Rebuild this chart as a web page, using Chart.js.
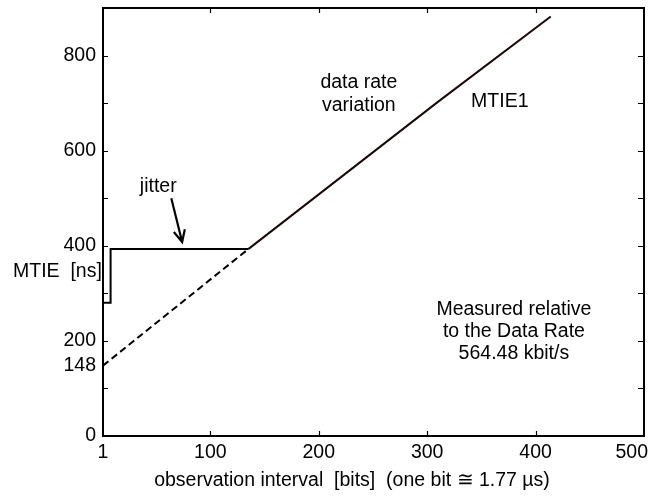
<!DOCTYPE html>
<html>
<head>
<meta charset="utf-8">
<script src="https://cdn.jsdelivr.net/npm/chart.js@4/dist/chart.umd.min.js"></script>
<style>
    html, body { margin: 0; padding: 0; background: #fff; }
    .chart-box { width: 651px; height: 496px; position: relative; }
</style>
</head>
<body>
<div class="chart-box"><canvas id="mtieChart"></canvas></div>
<script>
// Axis ticks
const xTickValues = [1, 100, 200, 300, 400, 500];
const xTickMarks = [100, 200, 300, 400];
const yTickMarks = [100, 200, 300, 400, 500, 600, 700, 800];
const yTickLabels = [0, 148, 200, 400, 600, 800];

// Series (observation interval in bits, MTIE in ns)
const extrapX = [1, 135];
const extrapY = [148, 393];
const mtieX = [135, 309, 414];
const mtieY = [393, 701, 882];
const jitterX = [1, 8, 8, 135];
const jitterY = [280, 280, 393, 393];

const toPoints = (xs, ys) => xs.map((x, i) => ({ x: x, y: ys[i] }));

const FONT = '19.5px "Liberation Sans", Arial, sans-serif';
const INK = '#000';

// Free text placed in data coordinates
const notes = [
    { text: 'jitter', x: 52, y: 513 },
    { text: 'data rate', x: 237, y: 732 },
    { text: 'variation', x: 237, y: 683 },
    { text: 'MTIE1', x: 367, y: 692 },
    { text: 'Measured relative', x: 380, y: 254 },
    { text: 'to the Data Rate', x: 380, y: 208 },
    { text: '564.48 kbit/s', x: 380, y: 162 }
];
const arrow = { from: [64, 500], to: [74, 408] };

const framePlugin = {
    id: 'frame',
    afterDatasetsDraw(chart) {
        const { ctx, chartArea: a, scales: { x, y } } = chart;
        ctx.save();
        ctx.strokeStyle = INK;
        ctx.fillStyle = INK;
        ctx.lineWidth = 2;
        ctx.strokeRect(a.left, a.top, a.right - a.left, a.bottom - a.top);

        // inward tick marks
        ctx.lineWidth = 1.2;
        ctx.beginPath();
        xTickMarks.forEach(v => {
            const px = Math.round(x.getPixelForValue(v)) + 0.5;
            ctx.moveTo(px, a.bottom); ctx.lineTo(px, a.bottom - 5);
            ctx.moveTo(px, a.top); ctx.lineTo(px, a.top + 5);
        });
        yTickMarks.forEach(v => {
            const py = Math.round(y.getPixelForValue(v)) + 0.5;
            ctx.moveTo(a.left, py); ctx.lineTo(a.left + 5, py);
            ctx.moveTo(a.right, py); ctx.lineTo(a.right - 6, py);
        });
        ctx.stroke();

        ctx.font = FONT;
        // y labels
        ctx.textAlign = 'right';
        ctx.textBaseline = 'middle';
        yTickLabels.forEach(v => {
            ctx.fillText(String(v), a.left - 7, y.getPixelForValue(v));
        });
        // x labels
        ctx.textBaseline = 'alphabetic';
        xTickValues.forEach((v, i) => {
            const last = i === xTickValues.length - 1;
            ctx.textAlign = last ? 'right' : 'center';
            ctx.fillText(String(v), x.getPixelForValue(v) + (last ? 4 : 0), a.bottom + 22);
        });

        // axis titles
        ctx.textAlign = 'left';
        ctx.fillText('MTIE  [ns]', 13, 277);
        ctx.textAlign = 'center';
        ctx.fillText('observation interval  [bits]  (one bit \u2245 1.77 \u00b5s)', 352, 486);

        // notes
        notes.forEach(n => {
            ctx.fillText(n.text, x.getPixelForValue(n.x), y.getPixelForValue(n.y));
        });

        // jitter arrow
        const x0 = x.getPixelForValue(arrow.from[0]), y0 = y.getPixelForValue(arrow.from[1]);
        const x1 = x.getPixelForValue(arrow.to[0]), y1 = y.getPixelForValue(arrow.to[1]);
        const ang = Math.atan2(y1 - y0, x1 - x0);
        ctx.lineWidth = 2.2;
        ctx.beginPath();
        ctx.moveTo(x0, y0); ctx.lineTo(x1, y1);
        ctx.moveTo(x1 - 13 * Math.cos(ang - 0.45), y1 - 13 * Math.sin(ang - 0.45));
        ctx.lineTo(x1, y1);
        ctx.lineTo(x1 - 13 * Math.cos(ang + 0.45), y1 - 13 * Math.sin(ang + 0.45));
        ctx.stroke();
        ctx.restore();
    }
};

const lineStyle = { showLine: true, pointRadius: 0, borderWidth: 2, tension: 0, fill: false };

new Chart(document.querySelector('#mtieChart'), {
    type: 'scatter',
    data: {
        datasets: [
            { ...lineStyle, label: 'extrapolation', data: toPoints(extrapX, extrapY), borderColor: INK, borderDash: [7, 4] },
            { ...lineStyle, label: 'jitter', data: toPoints(jitterX, jitterY), borderColor: INK, borderJoinStyle: 'miter' },
            { ...lineStyle, label: 'MTIE1', data: toPoints(mtieX, mtieY), borderColor: '#1a0808' }
        ]
    },
    options: {
        responsive: true,
        maintainAspectRatio: false,
        animation: false,
        layout: { padding: { left: 103, right: 7, top: 8, bottom: 60 } },
        plugins: { legend: { display: false }, tooltip: { enabled: false } },
        scales: {
            x: { type: 'linear', min: 1, max: 500, display: false },
            y: { type: 'linear', min: 0, max: 900, display: false }
        }
    },
    plugins: [framePlugin]
});
</script>
</body>
</html>
